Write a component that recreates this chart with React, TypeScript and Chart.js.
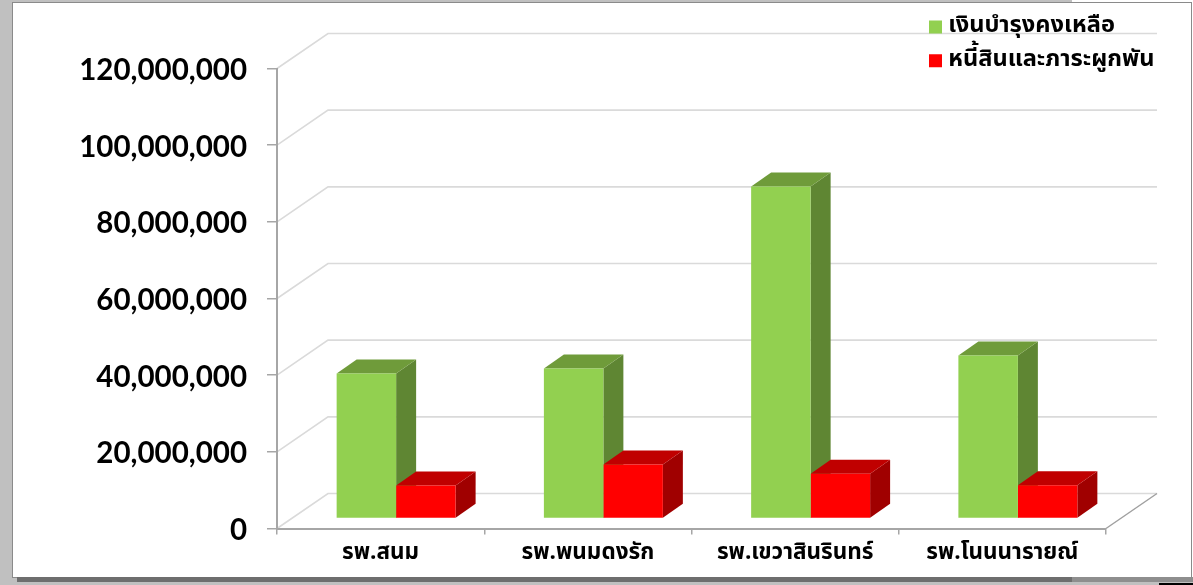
import React, { useEffect, useRef } from "react";
import { Chart, registerables } from "chart.js";

Chart.register(...registerables);

const categories = ["รพ.สนม", "รพ.พนมดงรัก", "รพ.เขวาสินรินทร์", "รพ.โนนนารายณ์"];
const seriesNames = ["เงินบำรุงคงเหลือ", "หนี้สินและภาระผูกพัน"];
const remaining = [37800000, 39100000, 86600000, 42500000];
const liabilities = [8600000, 14100000, 11700000, 8700000];

const WALL_DX = 51, WALL_DY = -35;
const BAR_OFF_X = 15.5, BAR_OFF_Y = -10;
const BAR_DX = 20, BAR_DY = -14;
const faces = [
  { front: "#92D050", top: "#6F9B3A", side: "#5F8633" },
  { front: "#FF0000", top: "#C00000", side: "#A00000" },
];
const FONT = "Tahoma, 'Noto Sans Thai', 'Noto Sans', 'DejaVu Sans', sans-serif";

const threeD = {
  id: "threeD",
  beforeDraw(chart: any) {
    const { ctx, chartArea: a, scales } = chart;
    const y = scales.y;
    ctx.save();
    ctx.lineWidth = 1.6;
    ctx.strokeStyle = "#DADADA";
    y.ticks.forEach((t: any) => {
      const p = y.getPixelForValue(t.value);
      ctx.beginPath();
      ctx.moveTo(a.left, p);
      ctx.lineTo(a.left + WALL_DX, p + WALL_DY);
      ctx.lineTo(a.right + WALL_DX, p + WALL_DY);
      ctx.stroke();
    });
    ctx.strokeStyle = "#A0A0A0";
    ctx.lineWidth = 1.5;
    ctx.beginPath();
    ctx.moveTo(a.right, a.bottom);
    ctx.lineTo(a.right + WALL_DX, a.bottom + WALL_DY);
    ctx.stroke();
    ctx.restore();
  },
  beforeDatasetsDraw(chart: any) {
    const { ctx } = chart;
    ctx.save();
    ctx.translate(BAR_OFF_X, BAR_OFF_Y);
    chart.data.datasets.forEach((_: any, di: number) => {
      const meta = chart.getDatasetMeta(di);
      meta.data.forEach((b: any) => {
        const l = b.x - b.width / 2, r = b.x + b.width / 2;
        ctx.fillStyle = faces[di].side;
        ctx.beginPath();
        ctx.moveTo(r, b.y);
        ctx.lineTo(r + BAR_DX, b.y + BAR_DY);
        ctx.lineTo(r + BAR_DX, b.base + BAR_DY);
        ctx.lineTo(r, b.base);
        ctx.closePath();
        ctx.fill();
        ctx.fillStyle = faces[di].top;
        ctx.beginPath();
        ctx.moveTo(l, b.y);
        ctx.lineTo(l + BAR_DX, b.y + BAR_DY);
        ctx.lineTo(r + BAR_DX, b.y + BAR_DY);
        ctx.lineTo(r, b.y);
        ctx.closePath();
        ctx.fill();
      });
    });
  },
  afterDatasetsDraw(chart: any) {
    chart.ctx.restore();
  },
  afterLayout(chart: any) {
    const lg = chart.legend;
    const w = lg.width, h = lg.height;
    lg.left = 924.3; lg.top = 5; lg.right = lg.left + w; lg.bottom = lg.top + h;
  },
};

export default function App() {
  const ref = useRef<HTMLCanvasElement>(null);
  useEffect(() => {
    document.body.style.margin = "0";
    const chart = new Chart(ref.current!, {
      type: "bar",
      data: {
        labels: categories,
        datasets: [
          { label: seriesNames[0], data: remaining, backgroundColor: faces[0].front, clip: false, categoryPercentage: 0.574, barPercentage: 1 },
          { label: seriesNames[1], data: liabilities, backgroundColor: faces[1].front, clip: false, categoryPercentage: 0.574, barPercentage: 1 },
        ],
      } as any,
      plugins: [threeD],
      options: {
        animation: false,
        responsive: false,
        layout: { padding: { top: 68.5, right: 87, left: 0, bottom: 0 } },
        plugins: {
          tooltip: { enabled: false },
          legend: {
            position: "chartArea",
            align: "start",
            labels: {
              boxWidth: 2,
              boxHeight: 2,
              padding: 10.2,
              color: "#000",
              font: { family: FONT, size: 23.6, weight: "bold" },
              generateLabels: (chart: any) =>
                chart.data.datasets.map((d: any, i: number) => ({
                  text: d.label,
                  fillStyle: d.backgroundColor,
                  strokeStyle: d.backgroundColor,
                  lineWidth: 11,
                  fontColor: "#000",
                  hidden: false,
                  datasetIndex: i,
                })),
            },
          },
        },
        scales: {
          x: {
            afterFit: (s: any) => { s.height = 56.5; },
            border: { color: "#A6A6A6", width: 2 },
            grid: { drawOnChartArea: false, color: "#A6A6A6", lineWidth: 1.5, tickLength: 6, offset: true },
            ticks: { color: "#000", padding: 6, maxRotation: 0, font: { family: FONT, size: 22.5, weight: "bold" } },
          },
          y: {
            min: 0,
            max: 120000000,
            afterFit: (s: any) => { s.width = 277; },
            border: { color: "#A6A6A6", width: 2 },
            grid: { drawOnChartArea: false, color: "#A6A6A6", lineWidth: 1.5, tickLength: 10 },
            ticks: {
              stepSize: 20000000,
              color: "#000",
              padding: 20,
              labelOffset: 2,
              font: { family: "Lato", size: 29.5, weight: "bold" },
              callback: (v: any) => Number(v).toLocaleString("en-US"),
            },
          },
        },
      } as any,
    });
    return () => chart.destroy();
  }, []);
  const abs = (left: number, top: number, width: number, height: number, background: string) => (
    <div style={{ position: "absolute", left, top, width, height, background }} />
  );
  return (
    <div style={{ position: "fixed", inset: 0, width: 1193, height: 585, background: "#C0C0C0", overflow: "hidden" }}>
      {abs(1072, 0, 121, 2, "#fff")}
      {abs(1192, 0, 1, 578, "#fff")}
      <div style={{ position: "absolute", left: 12, top: 2, width: 1178, height: 574, background: "#fff", border: "1px solid #8a8a8a" }} />
      {abs(17, 577, 1055, 5, "#6e6e6e")}
      {abs(1072, 577, 121, 5, "#8e8e8e")}
      {abs(1159, 583, 34, 2, "#000")}
      <canvas ref={ref} width={1193} height={585} style={{ position: "absolute", left: 0, top: 0, display: "block" }} />
    </div>
  );
}
